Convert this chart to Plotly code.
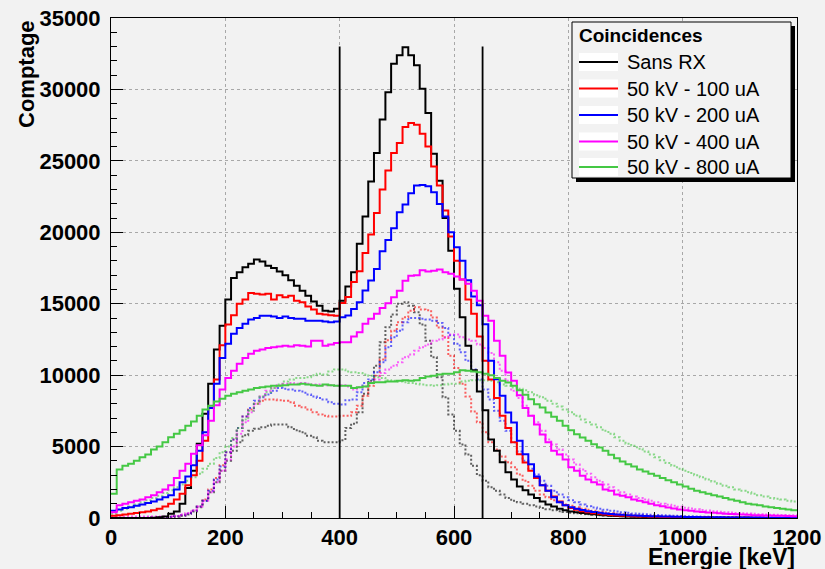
import plotly.graph_objects as go

# ---------------- data (counts per 10 keV bin, bins start at 0 keV) ----------------
bin_start_kev = list(range(0, 1200, 10))
bin_width_kev = 10

sans_rx = [
    0, 0, 0, 0, 0, 0, 0, 20, 50, 100,
    300, 450, 1000, 2100, 3300, 5200, 7300, 9400, 11800, 13450,
    15300, 16800, 17200, 17550, 17800, 18100, 17950, 17650, 17500, 17250,
    17000, 16650, 16250, 15900, 15550, 15150, 14850, 14500, 14450, 14650,
    15200, 16200, 17200, 19200, 21100, 23550, 25550, 27900, 29800, 31800,
    32400, 32950, 32400, 31700, 30050, 28350, 25500, 23600, 21000, 18700,
    16050, 14050, 12050, 10350, 8850, 7550, 5500, 4700, 3900, 3200,
    2700, 2200, 1950, 1650, 1400, 1150, 950, 800, 650, 550,
    450, 400, 350, 300, 260, 220, 190, 160, 140, 120,
    100, 90, 80, 70, 60, 55, 50, 45, 40, 35,
    30, 28, 25, 22, 20, 18, 16, 14, 12, 10,
    10, 9, 8, 7, 6, 5, 5, 4, 4, 3,
]
kv50_ua100 = [
    150, 200, 250, 300, 350, 400, 450, 550, 650, 800,
    1000, 1300, 1700, 2300, 3000, 4000, 5400, 7700, 9700, 12100,
    13550, 14200, 15000, 15300, 15750, 15700, 15650, 15700, 15300, 15600,
    15450, 15550, 15200, 15100, 14800, 14600, 14300, 14250, 14200, 14150,
    15050, 15470, 16520, 17270, 18550, 19850, 21350, 23000, 24330, 25550,
    26250, 27370, 27650, 27530, 26900, 26010, 24610, 23280, 21530, 19710,
    18000, 16700, 15300, 14300, 12700, 11000, 9700, 8400, 7150, 6300,
    5300, 4470, 3890, 3300, 2800, 2300, 1900, 1500, 1150, 900,
    700, 580, 480, 400, 340, 290, 250, 210, 180, 160,
    140, 120, 110, 100, 90, 80, 70, 60, 55, 50,
    45, 40, 36, 32, 28, 25, 22, 20, 18, 16,
    14, 12, 11, 10, 9, 8, 7, 6, 5, 5,
]
kv50_ua200 = [
    500, 600, 700, 750, 850, 950, 1050, 1150, 1300, 1450,
    1600, 2000, 2500, 2900, 3700, 4700, 6000, 7700, 9400, 11200,
    12200, 12900, 13300, 13600, 13900, 14000, 14150, 14150, 14100, 14000,
    14100, 14000, 13950, 13950, 13800, 13800, 13800, 13750, 13700, 13750,
    14050, 14170, 14630, 15100, 15920, 16620, 17430, 18670, 19460, 20280,
    21400, 21940, 22730, 23270, 23310, 23220, 22800, 21980, 21100, 20000,
    18950, 18000, 16650, 15500, 14900, 13570, 11000, 9720, 8560, 7390,
    6690, 5400, 4470, 3770, 2900, 2300, 1900, 1450, 1100, 900,
    750, 650, 560, 480, 420, 370, 320, 280, 250, 220,
    200, 180, 160, 145, 130, 120, 110, 100, 90, 80,
    75, 70, 65, 60, 55, 50, 45, 42, 40, 38,
    35, 32, 30, 28, 26, 24, 22, 20, 18, 16,
]
kv50_ua400 = [
    400, 900, 1000, 1100, 1200, 1300, 1450, 1600, 1800, 2000,
    2300, 2800, 3300, 3800, 4500, 5100, 5800, 6800, 7900, 9000,
    9800, 10300, 10800, 11200, 11500, 11700, 11800, 11900, 11950, 12000,
    12050, 12000, 12100, 12050, 12000, 12400, 12400, 12050, 12150, 12250,
    12300, 12300, 12700, 13000, 13600, 13950, 14300, 14700, 15030, 15450,
    15900, 16600, 16950, 17000, 17350, 17250, 17300, 17400, 17200, 17100,
    16900, 16700, 16400, 15900, 15200, 14150, 13800, 12400, 11350, 10180,
    9600, 8600, 7700, 7150, 6550, 5850, 5300, 4700, 4450, 4100,
    3550, 3300, 2950, 2700, 2500, 2350, 2000, 1900, 1650, 1550,
    1450, 1300, 1200, 1100, 1000, 900, 820, 740, 670, 600,
    550, 500, 460, 420, 390, 360, 330, 300, 280, 260,
    240, 220, 200, 190, 180, 170, 160, 150, 140, 130,
]
kv50_ua800 = [
    1700, 3400, 3650, 3800, 4000, 4250, 4450, 4800, 5000, 5300,
    5650, 5900, 6150, 6450, 6750, 7150, 7600, 7850, 8150, 8350,
    8550, 8700, 8800, 8900, 9000, 9100, 9150, 9200, 9250, 9250,
    9300, 9350, 9350, 9400, 9350, 9300, 9250, 9350, 9300, 9250,
    9250, 9250, 9100, 9150, 9200, 9450, 9500, 9500, 9550, 9550,
    9600, 9650, 9600, 9650, 9800, 9900, 9950, 10050, 10100, 10100,
    10200, 10350, 10300, 10250, 10200, 10100, 10000, 9800, 9600, 9480,
    9250, 8950, 8620, 8320, 7970, 7730, 7380, 7080, 6800, 6450,
    6150, 5870, 5630, 5400, 5170, 4930, 4700, 4420, 4190, 3950,
    3770, 3600, 3400, 3250, 3100, 2950, 2800, 2650, 2500, 2350,
    2200, 2050, 1900, 1800, 1700, 1600, 1500, 1400, 1300, 1200,
    1100, 1000, 950, 900, 800, 750, 700, 650, 600, 550,
]

# dotted companions (no legend entry in the reference)
sans_rx_dot = [
    0, 0, 0, 0, 0, 0, 0, 0, 20, 30,
    50, 80, 150, 250, 450, 750, 1200, 1800, 2500, 3300,
    4000, 4700, 5300, 5800, 6100, 6250, 6350, 6450, 6550, 6550,
    6550, 6350, 6150, 6000, 5750, 5650, 5400, 5300, 5300, 5300,
    5450, 6300, 6600, 7400, 8700, 9600, 10650, 12300, 13350, 14250,
    15000, 15100, 14850, 14400, 13550, 12400, 11250, 9850, 8450, 7250,
    6100, 5150, 4450, 3650, 3000, 2600, 2150, 1900, 1650, 1400,
    1200, 1100, 1000, 900, 800, 700, 620, 550, 480, 420,
    370, 330, 290, 260, 230, 200, 180, 160, 140, 120,
    110, 100, 90, 80, 70, 60, 55, 50, 45, 40,
    35, 30, 28, 25, 22, 20, 18, 16, 14, 12,
    10, 9, 8, 7, 6, 5, 5, 4, 4, 3,
]
kv50_ua100_dot = [
    0, 0, 0, 0, 0, 0, 10, 20, 40, 60,
    80, 120, 200, 300, 500, 800, 1300, 2000, 2800, 3700,
    4600, 5500, 6300, 7100, 7600, 8000, 8200, 8300, 8300, 8250,
    8200, 8100, 7850, 7750, 7600, 7400, 7250, 7150, 7100, 7100,
    7150, 7150, 7400, 7850, 8550, 9250, 9950, 11100, 12450, 13100,
    13700, 14050, 14500, 14750, 14600, 14550, 14030, 13330, 12630, 11350,
    10500, 9400, 8500, 7450, 6700, 6000, 5300, 4800, 4300, 3900,
    3550, 3050, 2600, 2250, 1900, 1650, 1450, 1250, 1100, 950,
    850, 750, 650, 570, 500, 440, 390, 340, 300, 270,
    240, 210, 190, 170, 150, 135, 120, 110, 100, 90,
    80, 72, 65, 58, 52, 46, 42, 38, 34, 30,
    27, 24, 22, 20, 18, 16, 14, 12, 10, 9,
]
kv50_ua200_dot = [
    0, 0, 0, 0, 0, 10, 20, 30, 50, 60,
    80, 120, 200, 300, 500, 800, 1200, 1900, 2700, 3600,
    4600, 5500, 6300, 7100, 7700, 8200, 8450, 8650, 8900, 9100,
    9050, 9000, 8900, 8850, 8650, 8500, 8400, 8300, 8100, 8000,
    7950, 8250, 8300, 8800, 9450, 9700, 10200, 10900, 11950, 12650,
    13100, 13700, 14000, 14000, 13950, 13900, 13800, 13650, 13300, 12800,
    12200, 11600, 11000, 10400, 9700, 9000, 8300, 7500, 6800, 6100,
    5300, 4650, 4000, 3450, 3050, 2600, 2250, 1900, 1650, 1450,
    1250, 1100, 950, 830, 730, 640, 570, 500, 450, 400,
    360, 320, 290, 260, 235, 210, 190, 170, 155, 140,
    125, 115, 105, 95, 85, 78, 70, 64, 58, 52,
    47, 43, 39, 35, 32, 29, 26, 23, 21, 19,
]
kv50_ua400_dot = [
    100, 100, 100, 100, 100, 100, 100, 100, 100, 100,
    100, 150, 250, 350, 550, 800, 1200, 1800, 2500, 3300,
    4100, 5000, 5900, 6700, 7400, 8000, 8500, 8900, 9100, 9300,
    9400, 9450, 9400, 9450, 9400, 9350, 9350, 9300, 9300, 9250,
    9300, 9200, 9000, 9150, 9200, 9500, 9700, 10150, 10400, 10650,
    10900, 11250, 11450, 11700, 11950, 12150, 12400, 12500, 12650, 12850,
    12850, 12650, 12500, 12400, 12150, 11900, 11550, 10900, 10300, 9600,
    8900, 8400, 7850, 7150, 6700, 6100, 5500, 5150, 4800, 4450,
    4100, 3750, 3400, 3100, 2850, 2600, 2350, 2150, 1950, 1800,
    1650, 1500, 1400, 1300, 1200, 1100, 1000, 920, 850, 780,
    720, 660, 610, 560, 520, 480, 440, 410, 380, 350,
    330, 310, 290, 270, 250, 235, 220, 205, 195, 185,
]
kv50_ua800_dot = [
    300, 500, 650, 800, 950, 1100, 1250, 1400, 1550, 1750,
    1950, 2150, 2350, 2600, 2850, 3100, 3450, 3800, 4200, 4600,
    5000, 5600, 6300, 6900, 7500, 8000, 8500, 8800, 9100, 9350,
    9550, 9700, 9800, 9800, 9850, 10000, 10100, 10050, 10250, 10400,
    10400, 10250, 10200, 10150, 10050, 9950, 9850, 9800, 9650, 9600,
    9550, 9500, 9450, 9400, 9350, 9300, 9250, 9300, 9350, 9400,
    9400, 9550, 9600, 9650, 9650, 9650, 9600, 9500, 9350, 9250,
    9130, 9050, 8950, 8800, 8600, 8450, 8200, 8000, 7800, 7600,
    7400, 7150, 6900, 6700, 6550, 6350, 6100, 5900, 5650, 5400,
    5200, 5050, 4850, 4650, 4450, 4250, 4050, 3850, 3650, 3450,
    3300, 3150, 3000, 2850, 2700, 2550, 2400, 2250, 2150, 2000,
    1900, 1800, 1700, 1600, 1500, 1400, 1350, 1300, 1200, 1150,
]

series_names = ["Sans RX", "50 kV - 100 uA", "50 kV - 200 uA", "50 kV - 400 uA", "50 kV - 800 uA"]
solid_series = [sans_rx, kv50_ua100, kv50_ua200, kv50_ua400, kv50_ua800]
dotted_series = [sans_rx_dot, kv50_ua100_dot, kv50_ua200_dot, kv50_ua400_dot, kv50_ua800_dot]

window_edges_kev = [400, 650]
window_top_count = 33000

legend_title = "Coincidences"
x_title = "Energie [keV]"
y_title = "Comptage"

# ---------------- styling ----------------
colors = ["#000000", "#ff0000", "#0000ff", "#ff00ff", "#44c844"]
BG = "#f2f2f2"
FONT = "Liberation Sans, Arial, Helvetica, sans-serif"

# full-window figure (page body margin is removed by a post script)
W, H = 825, 569
PLOT_X0, PLOT_X1, PLOT_Y0, PLOT_Y1 = 111, 797, 18, 518   # page pixels
L, T, R, B = PLOT_X0, PLOT_Y0, W - PLOT_X1, H - PLOT_Y1
PW, PH = PLOT_X1 - PLOT_X0, PLOT_Y1 - PLOT_Y0


def px_x(px):
    return (px - PLOT_X0) / PW


def px_y(py):
    return (PLOT_Y1 - py) / PH


def step_xy(values):
    xs = bin_start_kev + [bin_start_kev[-1] + bin_width_kev]
    ys = list(values) + [values[-1]]
    return xs, ys


fig = go.Figure()

for name, vals, col in zip(series_names, dotted_series, colors):
    xs, ys = step_xy(vals)
    fig.add_trace(go.Scatter(
        x=xs, y=ys, mode="lines", line_shape="hv",
        line=dict(color=col, width=2, dash="2px,2px"),
        opacity=0.6, name=name + " (dotted)", showlegend=False, hoverinfo="skip",
    ))

for name, vals, col in zip(series_names, solid_series, colors):
    xs, ys = step_xy(vals)
    fig.add_trace(go.Scatter(
        x=xs, y=ys, mode="lines", line_shape="hv",
        line=dict(color=col, width=2),
        name=name, showlegend=False,
    ))

# energy window lines
vx, vy = [], []
for e in window_edges_kev:
    vx += [e, e, None]
    vy += [0, window_top_count, None]
fig.add_trace(go.Scatter(x=vx, y=vy, mode="lines", line=dict(color="black", width=1.8),
                         showlegend=False, hoverinfo="skip"))

axis_common = dict(
    showline=True, linecolor="black", linewidth=1, mirror=True,
    ticks="inside", ticklen=12, tickwidth=1, tickcolor="black",
    showgrid=True, gridcolor="#a8a8a8", griddash="dot", gridwidth=1,
    zeroline=False, automargin=False, tickformat="d",
    ticklabeloverflow="allow",
    tickfont=dict(family=FONT, size=22, color="black", weight="bold"),
)

fig.update_xaxes(range=[0, 1200], dtick=200, tick0=0,
                 minor=dict(dtick=50, ticks="inside", ticklen=6, tickcolor="black", showgrid=False),
                 ticklabelstandoff=0, **axis_common)
fig.update_yaxes(range=[0, 35000], dtick=5000, tick0=0,
                 minor=dict(dtick=1000, ticks="inside", ticklen=6, tickcolor="black", showgrid=False),
                 ticklabelstandoff=5, **axis_common)

shapes = []
annotations = []

# axis titles
annotations.append(dict(text=y_title, xref="paper", yref="paper", x=px_x(26), y=1.0,
                        xanchor="center", yanchor="top", textangle=-90, showarrow=False,
                        font=dict(family=FONT, size=22, color="black", weight="bold")))
annotations.append(dict(text=x_title, xref="paper", yref="paper", x=1.0, y=px_y(557),
                        xanchor="right", yanchor="middle", showarrow=False,
                        font=dict(family=FONT, size=23, color="black", weight="bold")))

# legend box (ROOT style with shadow)
lx0, lx1, ly0, ly1 = 572, 791, 22, 178
shapes.append(dict(type="rect", xref="paper", yref="paper",
                   x0=px_x(lx0 + 4), x1=px_x(lx1 + 4), y0=px_y(ly0 + 4), y1=px_y(ly1 + 4),
                   fillcolor="black", line=dict(width=0)))
shapes.append(dict(type="rect", xref="paper", yref="paper",
                   x0=px_x(lx0), x1=px_x(lx1), y0=px_y(ly0), y1=px_y(ly1),
                   fillcolor=BG, line=dict(color="black", width=1)))
annotations.append(dict(text=legend_title, xref="paper", yref="paper",
                        x=px_x(577), y=px_y(35), xanchor="left", yanchor="middle",
                        showarrow=False,
                        font=dict(family=FONT, size=19, color="black", weight="bold")))
entry_y = [62, 88.5, 115, 141.5, 167]
for name, col, ey in zip(series_names, colors, entry_y):
    shapes.append(dict(type="rect", xref="paper", yref="paper",
                       x0=px_x(579), x1=px_x(618), y0=px_y(ey - 9), y1=px_y(ey + 9),
                       fillcolor="white", line=dict(width=0)))
    shapes.append(dict(type="line", xref="paper", yref="paper",
                       x0=px_x(579), x1=px_x(618), y0=px_y(ey), y1=px_y(ey),
                       line=dict(color=col, width=2)))
    annotations.append(dict(text=name, xref="paper", yref="paper",
                            x=px_x(625), y=px_y(ey), xanchor="left", yanchor="middle",
                            showarrow=False, font=dict(family=FONT, size=20, color="black")))

fig.update_layout(
    width=W, height=H, autosize=False,
    margin=dict(l=L, r=R, t=T, b=B, pad=0),
    paper_bgcolor=BG, plot_bgcolor=BG,
    showlegend=False,
    shapes=shapes, annotations=annotations,
    font=dict(family=FONT, color="black"),
)

fig.write_html("out.html",
               config={"displayModeBar": False},
               post_script="document.body.style.margin='0';document.body.style.overflow='hidden';")
